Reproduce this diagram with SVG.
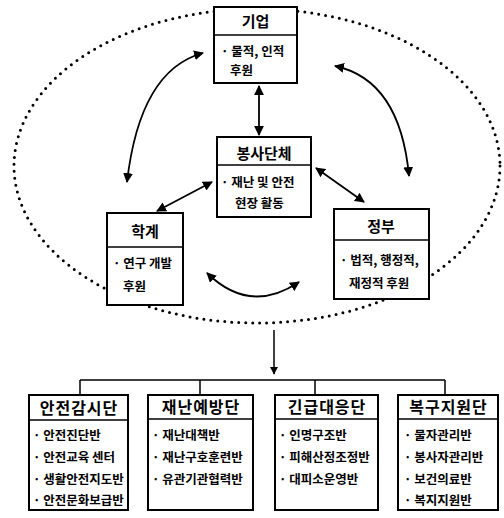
<svg xmlns="http://www.w3.org/2000/svg" width="504" height="518" viewBox="0 0 504 518">
<defs>
<style>
.box{fill:#fff;stroke:#000;stroke-width:2}
.div{stroke:#000;stroke-width:1.6}
.h{font-family:"Noto Sans CJK KR","Noto Sans",sans-serif;font-size:15px;font-weight:bold;fill:#000;text-anchor:middle}
.hb{font-family:"Noto Sans CJK KR","Noto Sans",sans-serif;font-size:16px;font-weight:bold;fill:#000;text-anchor:middle;letter-spacing:1px}
.t{font-family:"Noto Sans CJK KR","Noto Sans",sans-serif;font-size:12.5px;font-weight:bold;fill:#000}
.c{fill:none;stroke:#000;stroke-width:1.8}
.l{fill:none;stroke:#000;stroke-width:1.5}
.dot{fill:none;stroke:#000;stroke-width:3;stroke-linecap:round;stroke-dasharray:0 7}
</style>
<marker id="a" viewBox="0 0 10 10" refX="9" refY="5" markerWidth="5.5" markerHeight="5.5" orient="auto-start-reverse">
<path d="M0,0 L10,5 L0,10 z" fill="#000"/>
</marker>
</defs>
<rect width="504" height="518" fill="#fff"/>
<ellipse class="dot" cx="257" cy="166" rx="243" ry="157"/>
<g id="connectors">
<path class="c" d="M259,86 L259,135" marker-start="url(#a)" marker-end="url(#a)"/>
<path class="c" d="M212,182 L157,211" marker-start="url(#a)" marker-end="url(#a)"/>
<path class="c" d="M316,168 L364,202" marker-start="url(#a)" marker-end="url(#a)"/>
<path class="c" d="M203,53 Q140,70 127,182" marker-start="url(#a)" marker-end="url(#a)"/>
<path class="c" d="M335,66 Q400,80 409,176" marker-start="url(#a)" marker-end="url(#a)"/>
<path class="c" d="M207,273 Q250,315 299,282" marker-start="url(#a)" marker-end="url(#a)"/>
<path class="l" d="M274,330 L274,374" marker-end="url(#a)"/>
<path class="l" d="M80,380 L445,380 M80,380 L80,395 M200,380 L200,395 M315,380 L315,395 M445,380 L445,395"/>
</g>
<g id="n-giup">
<rect class="box" x="214" y="7" width="83" height="76"/>
<line class="div" x1="214" y1="35" x2="297" y2="35"/>
<text class="h" x="255.5" y="27">기업</text>
<text class="t" x="221" y="56">· 물적, 인적</text>
<text class="t" x="230" y="75">후원</text>
</g>
<g id="n-bongsa">
<rect class="box" x="217" y="137" width="94" height="80"/>
<line class="div" x1="217" y1="165" x2="311" y2="165"/>
<text class="h" x="264" y="159">봉사단체</text>
<text class="t" x="221" y="187">· 재난 및 안전</text>
<text class="t" x="235" y="208">현장 활동</text>
</g>
<g id="n-hakgye">
<rect class="box" x="107" y="213" width="76" height="92"/>
<line class="div" x1="107" y1="247" x2="183" y2="247"/>
<text class="h" x="145" y="237">학계</text>
<text class="t" x="113" y="268">· 연구 개발</text>
<text class="t" x="123" y="291">후원</text>
</g>
<g id="n-jeongbu">
<rect class="box" x="334" y="209" width="95" height="90"/>
<line class="div" x1="334" y1="240" x2="429" y2="240"/>
<text class="h" x="381" y="232">정부</text>
<text class="t" x="340" y="265">· 법적, 행정적,</text>
<text class="t" x="349" y="288">재정적 후원</text>
</g>
<g id="n-gamsi">
<rect class="box" x="29" y="395" width="99" height="115"/>
<line class="div" x1="29" y1="420" x2="128" y2="420"/>
<text class="hb" x="79" y="414">안전감시단</text>
<text class="t" x="33" y="440">· 안전진단반</text>
<text class="t" x="33" y="462">· 안전교육 센터</text>
<text class="t" x="33" y="484">· 생활안전지도반</text>
<text class="t" x="33" y="505">· 안전문화보급반</text>
</g>
<g id="n-yebang">
<rect class="box" x="148" y="395" width="105" height="115"/>
<line class="div" x1="148" y1="419" x2="253" y2="419"/>
<text class="hb" x="201" y="413">재난예방단</text>
<text class="t" x="152" y="440">· 재난대책반</text>
<text class="t" x="152" y="462">· 재난구호훈련반</text>
<text class="t" x="152" y="484">· 유관기관협력반</text>
</g>
<g id="n-gingeup">
<rect class="box" x="275" y="395" width="103" height="115"/>
<line class="div" x1="275" y1="419" x2="378" y2="419"/>
<text class="hb" x="327" y="413">긴급대응단</text>
<text class="t" x="279" y="440">· 인명구조반</text>
<text class="t" x="279" y="462">· 피해산정조정반</text>
<text class="t" x="279" y="484">· 대피소운영반</text>
</g>
<g id="n-bokgu">
<rect class="box" x="398" y="395" width="100" height="115"/>
<line class="div" x1="398" y1="419" x2="498" y2="419"/>
<text class="hb" x="448.5" y="413">복구지원단</text>
<text class="t" x="404" y="440">· 물자관리반</text>
<text class="t" x="404" y="462">· 봉사자관리반</text>
<text class="t" x="404" y="484">· 보건의료반</text>
<text class="t" x="404" y="505">· 복지지원반</text>
</g>
</svg>
